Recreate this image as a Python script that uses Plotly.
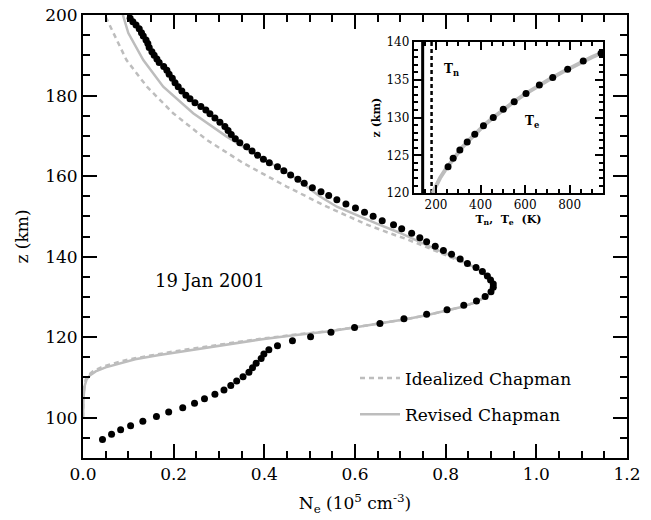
import plotly.graph_objects as go

# ---------------- main panel data ----------------
# measured electron density profile (dots)
obs_z = [199.2, 198.3, 197.5, 196.6, 195.6, 194.8, 193.8, 192.9, 191.9, 190.9,
         190.0, 189.1, 188.2, 187.2, 186.3, 185.3, 184.3, 183.2, 182.2, 181.1,
         180.1, 179.2, 178.2, 177.3, 176.4, 175.5, 174.4, 173.4, 172.3, 171.3,
         170.3, 169.3, 168.3, 167.3, 166.2, 165.2, 164.2, 163.3, 162.3, 161.3,
         160.3, 159.2, 158.2, 157.1, 156.1, 155.2, 154.1, 153.1, 152.1, 151.0,
         150.0, 148.9, 147.9, 146.9, 145.8, 144.7, 143.7, 142.6, 141.5, 140.6,
         139.4, 138.3, 137.3, 136.3, 135.2, 134.2, 133.2, 132.4, 131.3, 130.1,
         129.0, 127.9, 126.8, 125.7, 124.6, 123.4, 122.4, 121.2, 120.1, 119.1,
         117.9, 116.9, 115.8, 114.7, 113.5, 112.4, 111.3, 110.2, 109.1, 108.0,
         106.9, 105.8, 104.7, 103.6, 102.5, 101.4, 100.3, 99.1, 98.0, 97.0,
         95.9, 94.6]
obs_ne = [0.104, 0.110, 0.117, 0.124, 0.129, 0.133, 0.139, 0.143, 0.146, 0.152,
          0.157, 0.163, 0.168, 0.178, 0.185, 0.190, 0.197, 0.203, 0.210, 0.218,
          0.227, 0.236, 0.247, 0.260, 0.271, 0.280, 0.291, 0.302, 0.313, 0.320,
          0.327, 0.336, 0.346, 0.361, 0.373, 0.385, 0.398, 0.411, 0.429, 0.443,
          0.458, 0.474, 0.488, 0.506, 0.525, 0.542, 0.560, 0.580, 0.601, 0.621,
          0.640, 0.660, 0.685, 0.703, 0.725, 0.743, 0.758, 0.777, 0.795, 0.813,
          0.832, 0.848, 0.867, 0.881, 0.892, 0.899, 0.905, 0.905, 0.900, 0.887,
          0.868, 0.840, 0.803, 0.758, 0.708, 0.655, 0.599, 0.547, 0.502, 0.462,
          0.429, 0.410, 0.399, 0.393, 0.382, 0.374, 0.366, 0.353, 0.339, 0.326,
          0.311, 0.291, 0.268, 0.246, 0.220, 0.189, 0.162, 0.132, 0.105, 0.083,
          0.063, 0.043]

# revised Chapman (solid grey)
rev_z = [100, 105, 108, 109.5, 110.5, 111.5, 112.5, 113.5, 114.5, 115.5,
         116.5, 117.5, 118.5, 119.5, 120.5, 121.5, 122.5, 123.5, 124.5, 125.5,
         126.5, 127.5, 128.5, 129.5, 130.5, 131.5, 132.5, 133.5, 134.5, 135.5,
         136.5, 137.5, 138.5, 139.5, 140.5, 141.5, 142.5, 143.5, 144.5, 146,
         148, 150, 152.4, 155, 159.9, 164.8, 169.8, 175.6, 182.2, 188.8,
         195.5, 200]
rev_ne = [0.000, 0.001, 0.004, 0.008, 0.015, 0.028, 0.050, 0.080, 0.115, 0.165,
          0.220, 0.278, 0.335, 0.395, 0.465, 0.545, 0.605, 0.665, 0.715, 0.760,
          0.800, 0.835, 0.862, 0.880, 0.894, 0.902, 0.905, 0.902, 0.894, 0.885,
          0.877, 0.861, 0.843, 0.826, 0.806, 0.785, 0.765, 0.745, 0.726, 0.697,
          0.652, 0.610, 0.560, 0.522, 0.464, 0.390, 0.317, 0.243, 0.177, 0.133,
          0.100, 0.088]

# idealized Chapman (dashed grey)
ide_z = [100, 105, 108, 109.5, 110.5, 111.5, 112.5, 113.5, 114.5, 115.5,
         116.5, 117.5, 118.5, 119.5, 120.5, 121.5, 122.5, 123.5, 124.5, 125.5,
         126.5, 127.5, 128.5, 129.5, 130.5, 131.5, 132.5, 133.5, 134.5, 135.5,
         136.5, 137.5, 138.5, 139.5, 140.5, 141.5, 142.5, 143.5, 144.5, 146,
         148, 152.4, 157.4, 163.2, 169.0, 175.6, 182.2, 188.8, 195.5, 199.2,
         200]
ide_ne = [0.000, 0.0005, 0.003, 0.006, 0.011, 0.022, 0.040, 0.068, 0.102, 0.148,
          0.202, 0.262, 0.322, 0.385, 0.458, 0.540, 0.603, 0.664, 0.714, 0.760,
          0.800, 0.835, 0.862, 0.880, 0.894, 0.902, 0.905, 0.902, 0.894, 0.885,
          0.877, 0.860, 0.840, 0.820, 0.798, 0.776, 0.755, 0.733, 0.710, 0.672,
          0.625, 0.538, 0.449, 0.354, 0.273, 0.199, 0.141, 0.096, 0.067, 0.052,
          0.048]

x_ticks = [0.0, 0.2, 0.4, 0.6, 0.8, 1.0, 1.2]
x_ticklabels = ["0.0", "0.2", "0.4", "0.6", "0.8", "1.0", "1.2"]
y_ticks = [100, 120, 140, 160, 180, 200]

# ---------------- inset data ----------------
te_obs_z = [123.5, 124.6, 125.7, 126.75, 127.8, 128.9, 130.0, 131.1, 132.1,
            133.2, 134.3, 135.3, 136.4, 137.5, 138.5]
te_obs_t = [254, 277, 307, 340, 374, 413, 457, 502, 551, 604, 664, 724, 791,
            861, 941]
te_mod_z = [120, 121, 122, 123, 124, 125, 126, 127, 128, 129, 130, 131, 132,
            133, 134, 135, 136, 137, 138, 139]
te_mod_t = [184, 200, 218, 240, 264, 288, 316, 348, 381, 417, 457, 498, 546,
            594, 647, 706, 766, 829, 900, 980]
tn_solid_t = [140, 140]
tn_dash_t = [180, 180]
tn_z = [120, 140]
inset_xticks = [200, 400, 600, 800]
inset_yticks = [120, 125, 130, 135, 140]

GREY = "#bdbdbd"
FONT = "DejaVu Serif"

fig = go.Figure()

fig.add_trace(go.Scatter(x=ide_ne, y=ide_z, mode="lines", name="Idealized Chapman",
                         line=dict(color=GREY, width=2.5, dash="5px,4px"),
                         legendgroup="a"))
fig.add_trace(go.Scatter(x=rev_ne, y=rev_z, mode="lines", name="Revised Chapman",
                         line=dict(color=GREY, width=2.5), legendgroup="b"))
fig.add_trace(go.Scatter(x=obs_ne, y=obs_z, mode="markers", showlegend=False,
                         marker=dict(color="black", size=7), cliponaxis=False))

# inset
fig.add_trace(go.Scatter(x=tn_solid_t, y=tn_z, mode="lines", showlegend=False,
                         line=dict(color="black", width=3), xaxis="x2", yaxis="y2"))
fig.add_trace(go.Scatter(x=tn_dash_t, y=tn_z, mode="lines", showlegend=False,
                         line=dict(color="black", width=2.5, dash="4px,3px"),
                         xaxis="x2", yaxis="y2"))
fig.add_trace(go.Scatter(x=te_mod_t, y=te_mod_z, mode="lines", showlegend=False,
                         line=dict(color=GREY, width=4), xaxis="x2", yaxis="y2"))
fig.add_trace(go.Scatter(x=te_obs_t, y=te_obs_z, mode="markers", showlegend=False,
                         marker=dict(color="black", size=7), cliponaxis=False,
                         xaxis="x2", yaxis="y2"))

axis_common = dict(showline=True, linecolor="black", linewidth=2, mirror="ticks",
                   ticks="inside", tickcolor="black", showgrid=False, zeroline=False,
                   ticklabeloverflow="allow")

fig.update_layout(
    width=651, height=520,
    margin=dict(l=83, r=24, t=15, b=62, autoexpand=False),
    paper_bgcolor="white", plot_bgcolor="white",
    font=dict(family=FONT, size=17, color="black"),
    xaxis=dict(range=[0, 1.2], tickvals=x_ticks, ticktext=x_ticklabels,
               ticklen=14, tickwidth=2, automargin=False,
               tickfont=dict(size=17),
               minor=dict(dtick=0.05, ticklen=7, tickwidth=2, ticks="inside",
                          tickcolor="black"),
               title=dict(text="N<sub>e</sub> (10<sup>5</sup> cm<sup>-3</sup>)",
                          font=dict(size=17), standoff=14),
               **axis_common),
    yaxis=dict(range=[90, 200], tickvals=y_ticks, ticklen=14, tickwidth=2,
               automargin=False, tickfont=dict(size=17),
               minor=dict(dtick=5, ticklen=7, tickwidth=2, ticks="inside",
                          tickcolor="black"),
               title=dict(text="z (km)", font=dict(size=17), standoff=12),
               **axis_common),
    xaxis2=dict(domain=[0.608, 0.956], anchor="y2", range=[100, 950],
                tickvals=inset_xticks, ticklen=8, tickwidth=2,
                tickfont=dict(size=12),
                minor=dict(dtick=50, ticklen=4, tickwidth=1.5, ticks="inside",
                           tickcolor="black"),
                title=dict(text="<b>T<sub>n</sub>,  T<sub>e</sub>  (K)</b>",
                           font=dict(size=11), standoff=4),
                **axis_common),
    yaxis2=dict(domain=[0.598, 0.939], anchor="x2", range=[120, 140],
                tickvals=inset_yticks, ticklen=8, tickwidth=2,
                tickfont=dict(size=12),
                minor=dict(dtick=1, ticklen=4, tickwidth=1.5, ticks="inside",
                           tickcolor="black"),
                title=dict(text="<b>z (km)</b>", font=dict(size=11), standoff=4),
                **axis_common),
    legend=dict(x=0.5, y=0.22, xanchor="left", yanchor="top",
                bgcolor="rgba(0,0,0,0)", font=dict(size=17),
                traceorder="grouped", tracegroupgap=11, itemwidth=40),
    annotations=[
        dict(x=0.28, y=134.0, xref="x", yref="y", text="19 Jan 2001",
             showarrow=False, font=dict(size=18, family=FONT)),
        dict(x=270, y=136.3, xref="x2", yref="y2", text="<b>T<sub>n</sub></b>",
             showarrow=False, font=dict(size=12, family=FONT)),
        dict(x=629, y=129.4, xref="x2", yref="y2", text="<b>T<sub>e</sub></b>",
             showarrow=False, font=dict(size=12, family=FONT)),
    ],
)

# remove the default 8px page margin so the figure fills the window exactly
fig.write_html("out.html",
               config={"displayModeBar": False},
               post_script="document.body.style.margin='0px';"
                           "document.body.style.overflow='hidden';")
